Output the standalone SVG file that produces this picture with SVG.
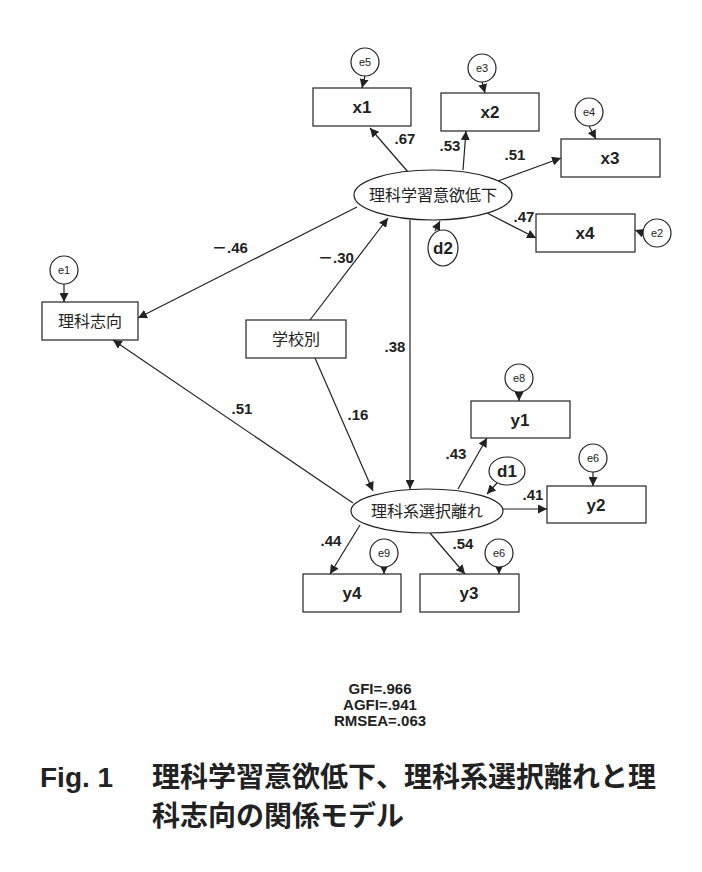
<svg xmlns="http://www.w3.org/2000/svg" width="702" height="872" viewBox="0 0 702 872">
<style>
.b{fill:#fff;stroke:#222;stroke-width:1.2}
.l{stroke:#222;stroke-width:1.2;fill:none}
text{font-family:"Liberation Sans","Noto Sans CJK JP",sans-serif;fill:#222;text-anchor:middle}
.n{font-size:17px;font-weight:bold}
.j{font-size:16px}
.c{font-size:11px}
.v{font-size:15px;font-weight:bold}
.cap{font-size:28px;font-weight:bold;text-anchor:start}
</style>
<defs><marker id="a" viewBox="0 0 10 10" refX="10" refY="5" markerWidth="9" markerHeight="9" markerUnits="userSpaceOnUse" orient="auto"><path d="M0,0L10,5L0,10z" fill="#222"/></marker></defs>
<rect width="702" height="872" fill="#fff"/>
<g id="connectors" class="l" marker-end="url(#a)">
<line x1="408" y1="172" x2="370" y2="128"/>
<line x1="463" y1="170" x2="466" y2="131"/>
<line x1="498" y1="181" x2="561" y2="158"/>
<line x1="487" y1="213" x2="536" y2="238"/>
<line x1="357" y1="207" x2="138" y2="318"/>
<line x1="310" y1="320" x2="388" y2="218"/>
<line x1="410" y1="220" x2="410" y2="489"/>
<line x1="315" y1="358" x2="373" y2="491"/>
<line x1="353" y1="503" x2="113" y2="340"/>
<line x1="458" y1="489" x2="487" y2="438"/>
<line x1="503" y1="509" x2="547" y2="509"/>
<line x1="360" y1="525" x2="330" y2="574"/>
<line x1="430" y1="533" x2="465" y2="574"/>
<line x1="365" y1="76" x2="362" y2="88"/>
<line x1="482" y1="82" x2="485" y2="93"/>
<line x1="589" y1="126" x2="596" y2="139"/>
<line x1="643" y1="233" x2="635" y2="230"/>
<line x1="64" y1="284" x2="64" y2="302"/>
<line x1="519" y1="392" x2="519" y2="401"/>
<line x1="593" y1="472" x2="593" y2="486"/>
<line x1="384" y1="567" x2="384" y2="574"/>
<line x1="499" y1="567" x2="499" y2="574"/>
<line x1="435" y1="231" x2="440" y2="221"/>
<line x1="497" y1="483" x2="487" y2="494"/>
</g>
<g id="x1"><rect class="b" x="313" y="88" width="98" height="38"/><text class="n" x="362" y="113">x1</text></g>
<g id="x2"><rect class="b" x="441" y="93" width="98" height="38"/><text class="n" x="490" y="118">x2</text></g>
<g id="x3"><rect class="b" x="561" y="139" width="99" height="38"/><text class="n" x="610" y="164">x3</text></g>
<g id="x4"><rect class="b" x="536" y="214" width="99" height="38"/><text class="n" x="585" y="239">x4</text></g>
<g id="y1"><rect class="b" x="471" y="401" width="99" height="37"/><text class="n" x="520" y="426">y1</text></g>
<g id="y2"><rect class="b" x="547" y="486" width="99" height="37"/><text class="n" x="596" y="511">y2</text></g>
<g id="y4"><rect class="b" x="303" y="574" width="98" height="38"/><text class="n" x="352" y="599">y4</text></g>
<g id="y3"><rect class="b" x="420" y="574" width="99" height="38"/><text class="n" x="469" y="599">y3</text></g>
<g id="rikashiko"><rect class="b" x="42" y="302" width="96" height="38"/><text class="j" x="90" y="327">理科志向</text></g>
<g id="gakkobetsu"><rect class="b" x="246" y="320" width="100" height="38"/><text class="j" x="296" y="345">学校別</text></g>
<g id="f1"><ellipse class="b" cx="433" cy="195" rx="79" ry="25"/><text class="j" x="433" y="201">理科学習意欲低下</text></g>
<g id="f2"><ellipse class="b" cx="427" cy="511" rx="76" ry="22"/><text class="j" x="427" y="517">理科系選択離れ</text></g>
<g id="d2"><ellipse class="b" cx="443" cy="248" rx="15" ry="18"/><text class="n" x="443" y="254">d2</text></g>
<g id="d1"><ellipse class="b" cx="507" cy="471" rx="18" ry="14"/><text class="n" x="507" y="477">d1</text></g>
<g id="e5"><circle class="b" cx="365" cy="62" r="14"/><text class="c" x="365" y="66">e5</text></g>
<g id="e3"><circle class="b" cx="482" cy="68" r="14"/><text class="c" x="482" y="72">e3</text></g>
<g id="e4"><circle class="b" cx="589" cy="112" r="14"/><text class="c" x="589" y="116">e4</text></g>
<g id="e2"><circle class="b" cx="657" cy="233" r="14"/><text class="c" x="657" y="237">e2</text></g>
<g id="e1"><circle class="b" cx="64" cy="270" r="14"/><text class="c" x="64" y="274">e1</text></g>
<g id="e8"><circle class="b" cx="519" cy="378" r="14"/><text class="c" x="519" y="382">e8</text></g>
<g id="e6a"><circle class="b" cx="593" cy="458" r="14"/><text class="c" x="593" y="462">e6</text></g>
<g id="e9"><circle class="b" cx="384" cy="553" r="14"/><text class="c" x="384" y="557">e9</text></g>
<g id="e6b"><circle class="b" cx="499" cy="553" r="14"/><text class="c" x="499" y="557">e6</text></g>
<g id="labels">
<text class="v" x="405" y="144">.67</text>
<text class="v" x="450" y="151">.53</text>
<text class="v" x="515" y="160">.51</text>
<text class="v" x="524" y="222">.47</text>
<text class="v" x="230" y="253">－.46</text>
<text class="v" x="336" y="263">－.30</text>
<text class="v" x="395" y="352">.38</text>
<text class="v" x="358" y="420">.16</text>
<text class="v" x="242" y="414">.51</text>
<text class="v" x="456" y="459">.43</text>
<text class="v" x="533" y="500">.41</text>
<text class="v" x="331" y="546">.44</text>
<text class="v" x="463" y="549">.54</text>
</g>
<g id="fit">
<text class="v" x="380" y="694">GFI=.966</text>
<text class="v" x="380" y="710">AGFI=.941</text>
<text class="v" x="380" y="726">RMSEA=.063</text>
</g>
<text class="cap" x="40" y="787">Fig. 1</text>
<text class="cap" x="152" y="787">理科学習意欲低下、理科系選択離れと理</text>
<text class="cap" x="152" y="826">科志向の関係モデル</text>
</svg>
